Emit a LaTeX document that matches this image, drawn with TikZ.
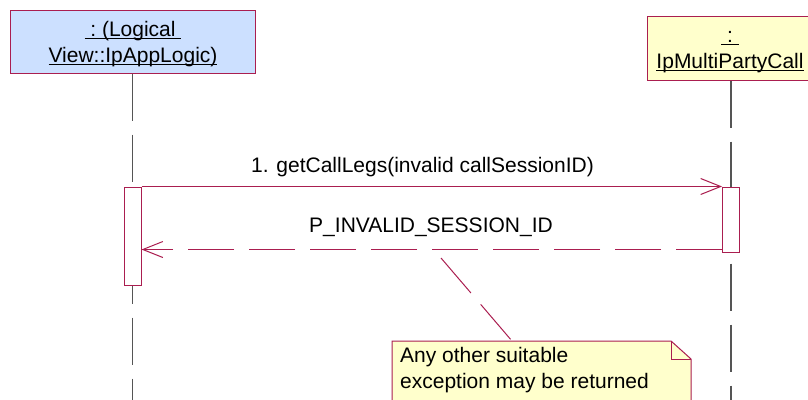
\documentclass[tikz,border=0pt]{standalone}
\usepackage{fontspec}
\setmainfont{Liberation Sans}
\usetikzlibrary{arrows.meta,calc}
\definecolor{umlred}{RGB}{170,30,80}
\definecolor{lifegray}{RGB}{85,85,85}
\definecolor{objblue}{RGB}{204,224,255}
\definecolor{objyellow}{RGB}{255,255,204}
\newcommand\myul[1]{\setbox0\hbox{#1}\rlap{\rule[-2.5pt]{\wd0}{1pt}}\box0}
\tikzset{
  objbox/.style={draw=umlred, line width=1pt, inner sep=0pt},
  txt/.style={font=\fontsize{21}{26}\selectfont, inner sep=0pt, anchor=base},
  actbox/.style={draw=umlred, fill=white, line width=1pt, inner sep=0pt, minimum width=17pt},
  lifeline/.style={draw=lifegray, line width=1.1pt, dash pattern=on 47pt off 14pt},
  msg/.style={draw=umlred, line width=1pt, -{Straight Barb[length=20pt,width=16pt]}},
  retmsg/.style={msg, dash pattern=on 46pt off 15pt},
  noteline/.style={draw=umlred, line width=1pt, dash pattern=on 46pt off 15pt},
  notebox/.style={draw=umlred, fill=objyellow, line width=1pt}
}
\begin{document}
\begin{tikzpicture}[x=1pt,y=-1pt]
\useasboundingbox (0,0) rectangle (808,399);
\clip (0,0) rectangle (808,399);
% object boxes
\node[objbox, fill=objblue, minimum width=245pt, minimum height=63pt] (L) at (132.5,41.5) {};
\node[objbox, fill=objyellow, minimum width=168pt, minimum height=64pt] (R) at (731,48) {};
\node[txt] (Lt1) at (133,36) {\myul{\ :\ (Logical\ }};
\node[txt] (Lt2) at (133,62) {\myul{View::IpAppLogic)}};
\node[txt] (Rt1) at (730,42) {\myul{\ :\ }};
\node[txt] (Rt2) at (730,68) {\myul{IpMultiPartyCall}};
% lifelines
\coordinate (Lend) at (132.5,410);
\coordinate (Rend) at (731,410);
\draw[lifeline] (L.south) -- (Lend);
\draw[lifeline] (R.south) -- (Rend);
% activations
\node[actbox, minimum height=98pt] (actL) at (132.5,236) {};
\node[actbox, minimum height=65pt] (actR) at (731,219.5) {};
% messages
\draw[msg] (actL.north east) -- (actR.north west);
\node[txt] (m1) at (422.5,172) {1. getCallLegs(invalid callSessionID)};
\coordinate (retR) at ($(actR.south west)+(0,-3)$);
\draw[retmsg] (retR) -- (actL.east |- retR);
\node[txt] (m2) at (431,232) {P\_INVALID\_SESSION\_ID};
% note
\draw[notebox] (392,341) -- (671,341) -- (691,359) -- (691,420) -- (392,420) -- cycle;
\draw[umlred, line width=1pt] (671,341) -- (671,359) -- (691,359);
\coordinate (noteattach) at (512,341);
\coordinate (notefrom) at (441,258);
\draw[noteline] (notefrom) -- (noteattach);
\node[txt, anchor=base west] (n1) at (400,362) {Any other suitable};
\node[txt, anchor=base west] (n2) at (400,388) {exception may be returned};
\end{tikzpicture}
\end{document}
